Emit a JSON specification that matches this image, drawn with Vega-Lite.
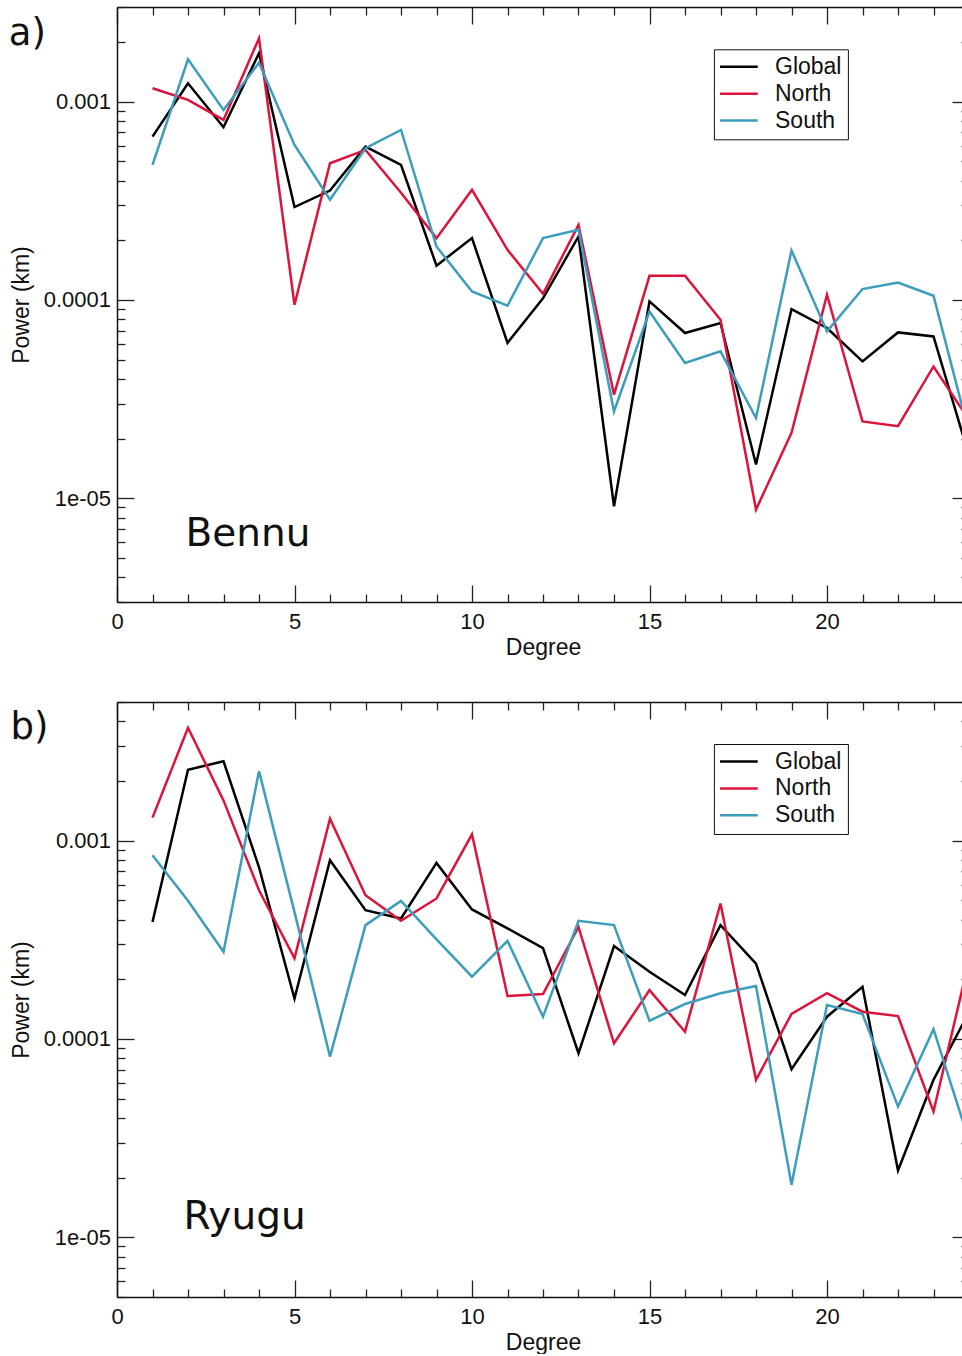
{
  "$schema": "https://vega.github.io/schema/vega-lite/v6.json",
  "padding": {"left": 8, "top": -4, "right": 0, "bottom": 0},
  "background": "white",
  "config": {
    "view": {"stroke": null},
    "axis": {
      "grid": false,
      "domainColor": "#111",
      "domainWidth": 1.5,
      "tickColor": "#222",
      "tickWidth": 1.3,
      "labelFont": "Liberation Sans",
      "labelFontSize": 22,
      "labelColor": "#111",
      "titleFont": "Liberation Sans",
      "titleFontSize": 23,
      "titleFontWeight": "normal",
      "titleColor": "#111",
      "labelOverlap": false,
      "labelBound": false,
      "labelFlush": false
    }
  },
  "datasets": {
    "bennu": [
      {"degree":1,"series":"Global","power":6.66e-4},{"degree":2,"series":"Global","power":1.238e-3},{"degree":3,"series":"Global","power":7.43e-4},{"degree":4,"series":"Global","power":1.754e-3},{"degree":5,"series":"Global","power":2.94e-4},{"degree":6,"series":"Global","power":3.56e-4},{"degree":7,"series":"Global","power":5.93e-4},{"degree":8,"series":"Global","power":4.80e-4},{"degree":9,"series":"Global","power":1.49e-4},{"degree":10,"series":"Global","power":2.05e-4},{"degree":11,"series":"Global","power":6.07e-5},{"degree":12,"series":"Global","power":1.02e-4},{"degree":13,"series":"Global","power":2.09e-4},{"degree":14,"series":"Global","power":9.12e-6},{"degree":15,"series":"Global","power":9.83e-5},{"degree":16,"series":"Global","power":6.81e-5},{"degree":17,"series":"Global","power":7.65e-5},{"degree":18,"series":"Global","power":1.48e-5},{"degree":19,"series":"Global","power":9.0e-5},{"degree":20,"series":"Global","power":7.22e-5},{"degree":21,"series":"Global","power":4.90e-5},{"degree":22,"series":"Global","power":6.86e-5},{"degree":23,"series":"Global","power":6.55e-5},{"degree":24,"series":"Global","power":1.64e-5},
      {"degree":1,"series":"North","power":1.168e-3},{"degree":2,"series":"North","power":1.02e-3},{"degree":3,"series":"North","power":8.09e-4},{"degree":4,"series":"North","power":2.086e-3},{"degree":5,"series":"North","power":9.46e-5},{"degree":6,"series":"North","power":4.89e-4},{"degree":7,"series":"North","power":5.71e-4},{"degree":8,"series":"North","power":3.47e-4},{"degree":9,"series":"North","power":2.05e-4},{"degree":10,"series":"North","power":3.59e-4},{"degree":11,"series":"North","power":1.79e-4},{"degree":12,"series":"North","power":1.074e-4},{"degree":13,"series":"North","power":2.39e-4},{"degree":14,"series":"North","power":3.33e-5},{"degree":15,"series":"North","power":1.324e-4},{"degree":16,"series":"North","power":1.324e-4},{"degree":17,"series":"North","power":7.95e-5},{"degree":18,"series":"North","power":8.77e-6},{"degree":19,"series":"North","power":2.14e-5},{"degree":20,"series":"North","power":1.062e-4},{"degree":21,"series":"North","power":2.44e-5},{"degree":22,"series":"North","power":2.31e-5},{"degree":23,"series":"North","power":4.62e-5},{"degree":24,"series":"North","power":2.49e-5},
      {"degree":1,"series":"South","power":4.80e-4},{"degree":2,"series":"South","power":1.635e-3},{"degree":3,"series":"South","power":9.08e-4},{"degree":4,"series":"South","power":1.572e-3},{"degree":5,"series":"South","power":6.05e-4},{"degree":6,"series":"South","power":3.20e-4},{"degree":7,"series":"South","power":5.82e-4},{"degree":8,"series":"South","power":7.20e-4},{"degree":9,"series":"South","power":1.86e-4},{"degree":10,"series":"South","power":1.104e-4},{"degree":11,"series":"South","power":9.35e-5},{"degree":12,"series":"South","power":2.05e-4},{"degree":13,"series":"South","power":2.26e-4},{"degree":14,"series":"South","power":2.74e-5},{"degree":15,"series":"South","power":8.75e-5},{"degree":16,"series":"South","power":4.81e-5},{"degree":17,"series":"South","power":5.51e-5},{"degree":18,"series":"South","power":2.54e-5},{"degree":19,"series":"South","power":1.776e-4},{"degree":20,"series":"South","power":6.94e-5},{"degree":21,"series":"South","power":1.135e-4},{"degree":22,"series":"South","power":1.225e-4},{"degree":23,"series":"South","power":1.05e-4},{"degree":24,"series":"South","power":2.14e-5}
    ],
    "ryugu": [
      {"degree":1,"series":"Global","power":3.89e-4},{"degree":2,"series":"Global","power":2.277e-3},{"degree":3,"series":"Global","power":2.515e-3},{"degree":4,"series":"Global","power":7.34e-4},{"degree":5,"series":"Global","power":1.60e-4},{"degree":6,"series":"Global","power":7.96e-4},{"degree":7,"series":"Global","power":4.46e-4},{"degree":8,"series":"Global","power":4.05e-4},{"degree":9,"series":"Global","power":7.72e-4},{"degree":10,"series":"Global","power":4.50e-4},{"degree":11,"series":"Global","power":3.61e-4},{"degree":12,"series":"Global","power":2.87e-4},{"degree":13,"series":"Global","power":8.47e-5},{"degree":14,"series":"Global","power":2.94e-4},{"degree":15,"series":"Global","power":2.18e-4},{"degree":16,"series":"Global","power":1.665e-4},{"degree":17,"series":"Global","power":3.75e-4},{"degree":18,"series":"Global","power":2.40e-4},{"degree":19,"series":"Global","power":7.04e-5},{"degree":20,"series":"Global","power":1.295e-4},{"degree":21,"series":"Global","power":1.833e-4},{"degree":22,"series":"Global","power":2.17e-5},{"degree":23,"series":"Global","power":6.22e-5},{"degree":24,"series":"Global","power":1.368e-4},
      {"degree":1,"series":"North","power":1.306e-3},{"degree":2,"series":"North","power":3.705e-3},{"degree":3,"series":"North","power":1.595e-3},{"degree":4,"series":"North","power":5.62e-4},{"degree":5,"series":"North","power":2.55e-4},{"degree":6,"series":"North","power":1.29e-3},{"degree":7,"series":"North","power":5.31e-4},{"degree":8,"series":"North","power":3.94e-4},{"degree":9,"series":"North","power":5.11e-4},{"degree":10,"series":"North","power":1.076e-3},{"degree":11,"series":"North","power":1.646e-4},{"degree":12,"series":"North","power":1.684e-4},{"degree":13,"series":"North","power":3.67e-4},{"degree":14,"series":"North","power":9.51e-5},{"degree":15,"series":"North","power":1.764e-4},{"degree":16,"series":"North","power":1.088e-4},{"degree":17,"series":"North","power":4.82e-4},{"degree":18,"series":"North","power":6.22e-5},{"degree":19,"series":"North","power":1.336e-4},{"degree":20,"series":"North","power":1.70e-4},{"degree":21,"series":"North","power":1.372e-4},{"degree":22,"series":"North","power":1.305e-4},{"degree":23,"series":"North","power":4.31e-5},{"degree":24,"series":"North","power":2.48e-4},
      {"degree":1,"series":"South","power":8.43e-4},{"degree":2,"series":"South","power":4.97e-4},{"degree":3,"series":"South","power":2.75e-4},{"degree":4,"series":"South","power":2.24e-3},{"degree":5,"series":"South","power":4.36e-4},{"degree":6,"series":"South","power":8.15e-5},{"degree":7,"series":"South","power":3.75e-4},{"degree":8,"series":"South","power":4.97e-4},{"degree":9,"series":"South","power":3.18e-4},{"degree":10,"series":"South","power":2.06e-4},{"degree":11,"series":"South","power":3.12e-4},{"degree":12,"series":"South","power":1.295e-4},{"degree":13,"series":"South","power":3.94e-4},{"degree":14,"series":"South","power":3.75e-4},{"degree":15,"series":"South","power":1.236e-4},{"degree":16,"series":"South","power":1.50e-4},{"degree":17,"series":"South","power":1.70e-4},{"degree":18,"series":"South","power":1.848e-4},{"degree":19,"series":"South","power":1.84e-5},{"degree":20,"series":"South","power":1.483e-4},{"degree":21,"series":"South","power":1.336e-4},{"degree":22,"series":"South","power":4.56e-5},{"degree":23,"series":"South","power":1.12e-4},{"degree":24,"series":"South","power":3.07e-5}
    ]
  },
  "vconcat": [
    {
      "width": 852,
      "height": 595,
      "data": {"name": "bennu"},
      "layer": [
        {
          "mark": {"type": "line", "strokeWidth": 2.5},
          "encoding": {
            "x": {"field": "degree", "type": "quantitative", "scale": {"domain": [0, 24], "nice": false, "zero": false},
              "axis": {"orient": "bottom", "title": "Degree", "values": [0,1,2,3,4,5,6,7,8,9,10,11,12,13,14,15,16,17,18,19,20,21,22,23,24],
                "labelExpr": "datum.value % 5 === 0 ? datum.label : ''", "labelPadding": 26, "titlePadding": -5,
                "tickSize": {"condition": {"test": "datum.value % 5 === 0", "value": -17}, "value": -8}}},
            "y": {"field": "power", "type": "quantitative", "scale": {"type": "log", "domain": [3e-6, 3e-3], "nice": false},
              "axis": {"orient": "left", "title": "Power (km)", "values": [3e-6,4e-6,5e-6,6e-6,7e-6,8e-6,9e-6,1e-5,2e-5,3e-5,4e-5,5e-5,6e-5,7e-5,8e-5,9e-5,1e-4,2e-4,3e-4,4e-4,5e-4,6e-4,7e-4,8e-4,9e-4,1e-3,2e-3,3e-3],
                "labelExpr": "datum.value > 0.0009 && datum.value < 0.0011 ? '0.001' : datum.value > 0.00009 && datum.value < 0.00011 ? '0.0001' : datum.value > 0.000009 && datum.value < 0.000011 ? '1e-05' : ''",
                "labelPadding": 23.5, "titlePadding": 10,
                "tickSize": {"condition": {"test": "abs(log(datum.value)/LN10 - round(log(datum.value)/LN10)) < 0.01", "value": -17}, "value": -8}}},
            "color": {"field": "series", "type": "nominal",
              "scale": {"domain": ["Global", "North", "South"], "range": ["#000000", "#DC143C", "#3C9DBD"]},
              "legend": {"orient": "none", "legendX": 596.9, "legendY": 42.3, "title": null,
                "symbolType": "M-2,0H2", "symbolSize": 355, "symbolStrokeWidth": 2.5, "symbolOffset": 7.5,
                "labelOffset": 24.6, "labelFont": "Liberation Sans", "labelFontSize": 23, "labelColor": "#111",
                "strokeColor": "#111", "fillColor": "white", "padding": 6, "rowPadding": 2.9,
                "encode": {"legend": {"strokeWidth": {"value": 1.5}}}}}
          }
        },
        {
          "data": {"values": [{"t": "Bennu"}]},
          "mark": {"type": "text", "font": "DejaVu Sans", "fontSize": 39, "align": "left", "baseline": "alphabetic", "color": "#111"},
          "encoding": {
            "x": {"datum": 1.93, "type": "quantitative",
              "axis": {"orient": "top", "title": null, "labels": false, "values": [0,1,2,3,4,5,6,7,8,9,10,11,12,13,14,15,16,17,18,19,20,21,22,23,24],
                "tickSize": {"condition": {"test": "datum.value % 5 === 0", "value": -17}, "value": -8}}},
            "y": {"datum": 5.73e-6, "type": "quantitative",
              "axis": {"orient": "right", "title": null, "labels": false, "values": [3e-6,4e-6,5e-6,6e-6,7e-6,8e-6,9e-6,1e-5,2e-5,3e-5,4e-5,5e-5,6e-5,7e-5,8e-5,9e-5,1e-4,2e-4,3e-4,4e-4,5e-4,6e-4,7e-4,8e-4,9e-4,1e-3,2e-3,3e-3],
                "tickSize": {"condition": {"test": "abs(log(datum.value)/LN10 - round(log(datum.value)/LN10)) < 0.01", "value": -17}, "value": -8}}},
            "text": {"field": "t"}
          }
        },
        {
          "data": {"values": [{"t": "a)"}]},
          "mark": {"type": "text", "font": "DejaVu Sans", "fontSize": 37, "align": "left", "baseline": "alphabetic", "color": "#111"},
          "encoding": {
            "x": {"datum": -3.05, "type": "quantitative", "axis": null},
            "y": {"datum": 1.93e-3, "type": "quantitative", "axis": null},
            "text": {"field": "t"}
          }
        }
      ],
      "resolve": {"axis": {"x": "independent", "y": "independent"}}
    },
    {
      "width": 852,
      "height": 595,
      "data": {"name": "ryugu"},
      "layer": [
        {
          "mark": {"type": "line", "strokeWidth": 2.5},
          "encoding": {
            "x": {"field": "degree", "type": "quantitative", "scale": {"domain": [0, 24], "nice": false, "zero": false},
              "axis": {"orient": "bottom", "title": "Degree", "values": [0,1,2,3,4,5,6,7,8,9,10,11,12,13,14,15,16,17,18,19,20,21,22,23,24],
                "labelExpr": "datum.value % 5 === 0 ? datum.label : ''", "labelPadding": 26, "titlePadding": -5,
                "tickSize": {"condition": {"test": "datum.value % 5 === 0", "value": -17}, "value": -8}}},
            "y": {"field": "power", "type": "quantitative", "scale": {"type": "log", "domain": [5e-6, 5e-3], "nice": false},
              "axis": {"orient": "left", "title": "Power (km)", "values": [5e-6,6e-6,7e-6,8e-6,9e-6,1e-5,2e-5,3e-5,4e-5,5e-5,6e-5,7e-5,8e-5,9e-5,1e-4,2e-4,3e-4,4e-4,5e-4,6e-4,7e-4,8e-4,9e-4,1e-3,2e-3,3e-3,4e-3,5e-3],
                "labelExpr": "datum.value > 0.0009 && datum.value < 0.0011 ? '0.001' : datum.value > 0.00009 && datum.value < 0.00011 ? '0.0001' : datum.value > 0.000009 && datum.value < 0.000011 ? '1e-05' : ''",
                "labelPadding": 23.5, "titlePadding": 10,
                "tickSize": {"condition": {"test": "abs(log(datum.value)/LN10 - round(log(datum.value)/LN10)) < 0.01", "value": -17}, "value": -8}}},
            "color": {"field": "series", "type": "nominal",
              "scale": {"domain": ["Global", "North", "South"], "range": ["#000000", "#DC143C", "#3C9DBD"]},
              "legend": {"orient": "none", "legendX": 596.9, "legendY": 42, "title": null,
                "symbolType": "M-2,0H2", "symbolSize": 355, "symbolStrokeWidth": 2.5, "symbolOffset": 7.5,
                "labelOffset": 24.6, "labelFont": "Liberation Sans", "labelFontSize": 23, "labelColor": "#111",
                "strokeColor": "#111", "fillColor": "white", "padding": 6, "rowPadding": 2.9,
                "encode": {"legend": {"strokeWidth": {"value": 1.5}}}}}
          }
        },
        {
          "data": {"values": [{"t": "Ryugu"}]},
          "mark": {"type": "text", "font": "DejaVu Sans", "fontSize": 39, "align": "left", "baseline": "alphabetic", "color": "#111"},
          "encoding": {
            "x": {"datum": 1.87, "type": "quantitative",
              "axis": {"orient": "top", "title": null, "labels": false, "values": [0,1,2,3,4,5,6,7,8,9,10,11,12,13,14,15,16,17,18,19,20,21,22,23,24],
                "tickSize": {"condition": {"test": "datum.value % 5 === 0", "value": -17}, "value": -8}}},
            "y": {"datum": 1.1e-5, "type": "quantitative",
              "axis": {"orient": "right", "title": null, "labels": false, "values": [5e-6,6e-6,7e-6,8e-6,9e-6,1e-5,2e-5,3e-5,4e-5,5e-5,6e-5,7e-5,8e-5,9e-5,1e-4,2e-4,3e-4,4e-4,5e-4,6e-4,7e-4,8e-4,9e-4,1e-3,2e-3,3e-3,4e-3,5e-3],
                "tickSize": {"condition": {"test": "abs(log(datum.value)/LN10 - round(log(datum.value)/LN10)) < 0.01", "value": -17}, "value": -8}}},
            "text": {"field": "t"}
          }
        },
        {
          "data": {"values": [{"t": "b)"}]},
          "mark": {"type": "text", "font": "DejaVu Sans", "fontSize": 37, "align": "left", "baseline": "alphabetic", "color": "#111"},
          "encoding": {
            "x": {"datum": -3.0, "type": "quantitative", "axis": null},
            "y": {"datum": 3.26e-3, "type": "quantitative", "axis": null},
            "text": {"field": "t"}
          }
        }
      ],
      "resolve": {"axis": {"x": "independent", "y": "independent"}}
    }
  ],
  "bounds": "flush",
  "spacing": 100,
  "resolve": {"legend": {"color": "independent"}}
}
